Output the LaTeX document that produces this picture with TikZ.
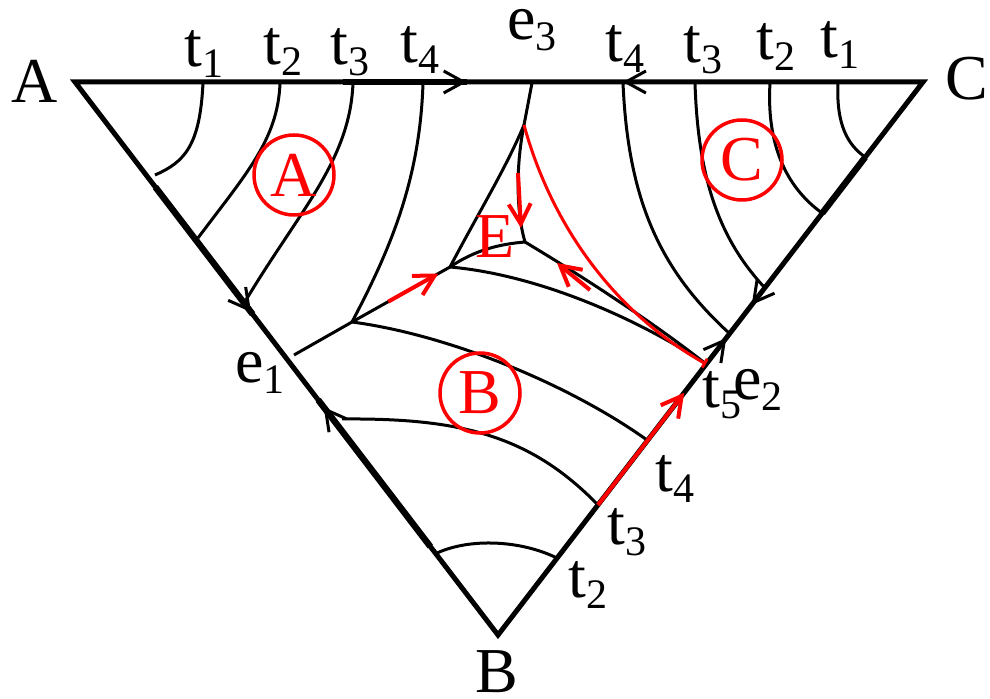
\documentclass[tikz,border=0pt]{standalone}
\usepackage{fontspec}
\setmainfont{LiberationSerif-Regular.ttf}
\usepackage{tikz}
\usetikzlibrary{arrows.meta,calc}
\newcommand\sbs[1]{\raisebox{-5.5pt}{\fontsize{21}{21}\selectfont #1}}
\tikzset{
  side/.style={line width=2.5pt, line join=miter},
  heavy/.style={line width=3.2pt},
  flow/.style={line width=1.5pt},
  barb/.style={line width=1.5pt, -{Straight Barb[length=10pt,width=11pt]}},
  redbarb/.style={red, line width=2pt, -{Straight Barb[length=10pt,width=11pt]}},
  orbit/.style={red, line width=1.5pt},
  zone/.style={circle, draw=red, line width=1.75pt, minimum size=40pt, inner sep=0pt, text=red},
  tag/.style={inner sep=0pt, anchor=base},
}
\begin{document}
\begin{tikzpicture}[x=0.5pt, y=-0.5pt, font=\fontsize{32}{36}\selectfont]
  \useasboundingbox (0,0) rectangle (990,699);
  \coordinate (A) at (75,82);
  \coordinate (C) at (923,82);
  \coordinate (B) at (498,635);
  \coordinate (J1) at (352,322);
  \coordinate (J2) at (450,267);
  \coordinate (J3) at (525,242);
  \coordinate (J4) at (524,125);
  \coordinate (P) at (706,364);
  \coordinate (ta1) at (203,83);
  \coordinate (ta2) at (280,83);
  \coordinate (ta3) at (353,83);
  \coordinate (ta4) at (423,83);
  \coordinate (te3) at (532,83);
  \coordinate (tc4) at (623,83);
  \coordinate (tc3) at (695,83);
  \coordinate (tc2) at (770,83);
  \coordinate (tc1) at (838,83);
  \coordinate (la1) at (155,175);
  \coordinate (la2) at (198,238);
  \coordinate (la3) at (246,300);
  \coordinate (le1) at (294,355);
  \coordinate (lb3) at (342,419);
  \coordinate (lb2) at (437,553);
  \coordinate (rc4) at (729,333);
  \coordinate (rc3) at (765,288);
  \coordinate (rc2) at (822,213);
  \coordinate (rc1) at (865,157);
  \coordinate (rb4) at (647,440);
  \coordinate (rb3) at (598,505);
  \coordinate (rb2) at (557,558);

  \draw[side] (A) -- (C) -- (B) -- cycle;
  \draw[heavy] ($(A)!0.19!(B)$) -- ($(A)!0.42!(B)$);
  \draw[heavy] ($(A)!0.575!(B)$) -- ($(A)!0.84!(B)$);
  \draw[heavy] ($(A)!0.316!(C)$) -- ($(A)!0.462!(C)$);
  \draw[heavy] ($(C)!0.136!(B)$) -- ($(C)!0.237!(B)$);

  \draw[barb] ($(A)!0.44!(C)$) -- ($(A)!0.462!(C)$);
  \draw[barb] ($(A)!0.67!(C)$) -- ($(A)!0.646!(C)$);
  \draw[barb] ($(A)!0.39!(B)$) -- ($(A)!0.416!(B)$);
  \draw[barb] ($(A)!0.615!(B)$) -- ($(A)!0.588!(B)$);
  \draw[barb] ($(C)!0.375!(B)$) -- ($(C)!0.403!(B)$);
  \draw[barb] ($(C)!0.49!(B)$) -- ($(C)!0.463!(B)$);

  \draw[flow] (ta1) .. controls (200,145) and (185,162) .. (la1);
  \draw[flow] (ta2) .. controls (278,140) and (245,175) .. (la2);
  \draw[flow] (ta3) .. controls (350,160) and (300,210) .. (la3);
  \draw[flow] (ta4) .. controls (420,180) and (390,250) .. (J1);
  \draw[flow] (te3) -- (J4);
  \draw[flow] (J4) .. controls (505,170) and (480,210) .. (J2);
  \draw[flow] (J4) .. controls (515,170) and (517,215) .. (J3);
  \draw[flow] (J2) .. controls (475,250) and (500,244) .. (J3);
  \draw[flow] (J3) .. controls (580,275) and (650,320) .. (P);
  \draw[flow] (J2) .. controls (540,275) and (640,320) .. (P);
  \draw[flow] (J1) -- (le1);
  \draw[flow] (J1) -- (J2);
  \draw[flow] (J1) .. controls (450,335) and (570,385) .. (rb4);
  \draw[flow] (lb3) .. controls (460,418) and (530,435) .. (rb3);
  \draw[flow] (lb2) .. controls (470,538) and (520,540) .. (rb2);
  \draw[flow] (tc4) .. controls (628,200) and (660,270) .. (rc4);
  \draw[flow] (tc3) .. controls (698,180) and (720,240) .. (rc3);
  \draw[flow] (tc2) .. controls (766,150) and (790,190) .. (rc2);
  \draw[flow] (tc1) .. controls (836,125) and (848,145) .. (rc1);

  \draw[orbit, -{Bar[width=5pt]}] (J4) .. controls (550,220) and (610,310) .. (P);
  \draw[redbarb] ($(J1)!0.37!(J2)$) -- ($(J1)!0.88!(J2)$);
  \draw[redbarb] (518,173) -- (521,228);
  \draw[redbarb] (590,290) -- (557,263);
  \draw[redbarb] (rb3) -- ($(C)!0.562!(B)$);

  \node[tag] (lA) at (35,103) {A};
  \node[tag] (lC) at (967,100) {C};
  \node[tag] (lB) at (497,692) {B};
  \node[tag] (l1) at (204,67) {t\sbs{1}};
  \node[tag] (l2) at (283,65) {t\sbs{2}};
  \node[tag] (l3) at (350,65) {t\sbs{3}};
  \node[tag] (l4) at (420,63) {t\sbs{4}};
  \node[tag] (le3) at (532,40) {e\sbs{3}};
  \node[tag] (r4) at (625,62) {t\sbs{4}};
  \node[tag] (r3) at (703,63) {t\sbs{3}};
  \node[tag] (r2) at (776,60) {t\sbs{2}};
  \node[tag] (r1) at (840,58) {t\sbs{1}};
  \node[tag] (le1n) at (260,383) {e\sbs{1}};
  \node[tag] (lt5) at (722,408) {t\sbs{5}};
  \node[tag] (le2) at (758,400) {e\sbs{2}};
  \node[tag] (b4) at (675,492) {t\sbs{4}};
  \node[tag] (b3) at (627,545) {t\sbs{3}};
  \node[tag] (b2) at (588,597) {t\sbs{2}};
  \node[zone] (zA) at (294,175) {A};
  \node[zone] (zB) at (480,393) {B};
  \node[zone] (zC) at (742,160) {C};
  \node[tag, text=red] (lE) at (495,258) {E};
\end{tikzpicture}
\end{document}
